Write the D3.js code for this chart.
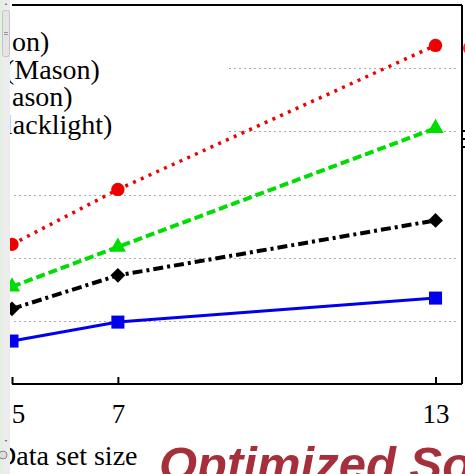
<!DOCTYPE html>
<html>
<head>
<meta charset="utf-8">
<script src="https://cdn.jsdelivr.net/npm/d3@7"></script>
<style>
  html, body { margin: 0; padding: 0; background: #fff; overflow: hidden; }
  svg { display: block; }
</style>
</head>
<body>
<svg id="chart" width="465" height="474"></svg>
<script>
// data (y in grid units, labels cropped in the original)
const sizes = [5, 7, 13];
const xTicks = [5, 7, 13];
const gridLevels = [1, 2, 3, 4, 5];
const redVals = [2.21, 3.08, 5.36];
const greenVals = [1.54, 2.17, 4.05];
const blackVals = [1.19, 1.72, 2.59];
const blueVals = [0.68, 0.98, 1.36];
const legendLabels = ["on)", "(Mason)", "ason)", "lacklight)"];

const series = [
  { name: "red", values: redVals, color: "#ee0000", dash: "3,5.5", width: 3.5, symbol: d3.symbolCircle, size: 140, rot: 0 },
  { name: "green", values: greenVals, color: "#00dd00", dash: "9,4", width: 4, symbol: d3.symbolTriangle, size: 115, rot: 0 },
  { name: "black", values: blackVals, color: "#000", dash: "10,4,3,4", width: 4, symbol: d3.symbolSquare, size: 110, rot: 45 },
  { name: "blue", values: blueVals, color: "#0000ee", dash: null, width: 3, symbol: d3.symbolSquare, size: 170, rot: 0 }
];

const svg = d3.select("#chart");

const plotLeft = 12, plotRight = 462, plotTop = 5, plotBottom = 384;
const x = d3.scaleLinear().domain([5, 13.5]).range([plotLeft, plotRight]);
const y = d3.scaleLinear().domain([0, 6]).range([plotBottom, plotTop]);

// dotted grid
svg.append("g")
  .selectAll("line")
  .data(gridLevels)
  .join("line")
  .attr("x1", plotLeft + 2)
  .attr("x2", plotRight - 4)
  .attr("y1", d => Math.round(y(d)) + 0.5)
  .attr("y2", d => Math.round(y(d)) + 0.5)
  .attr("stroke", "#aaa")
  .attr("stroke-width", 1)
  .attr("stroke-dasharray", "2,3");

// legend box (cropped) hides the upper grid lines
svg.append("rect")
  .attr("x", plotLeft)
  .attr("y", 20)
  .attr("width", 215)
  .attr("height", 122)
  .attr("fill", "#fff");

svg.append("g")
  .selectAll("text")
  .data(legendLabels)
  .join("text")
  .attr("x", (d, i) => [12, 5, 12, 5][i])
  .attr("y", (d, i) => 51 + i * 27.5)
  .attr("font-family", "'Liberation Serif', 'Times New Roman', serif")
  .attr("font-size", 28)
  .attr("fill", "#000")
  .text(d => d);

// frame: top, right and bottom axis lines
svg.append("line")
  .attr("x1", plotLeft).attr("x2", plotRight).attr("y1", plotTop).attr("y2", plotTop)
  .attr("stroke", "#000").attr("stroke-width", 2);
svg.append("line")
  .attr("x1", plotRight).attr("x2", plotRight).attr("y1", plotTop).attr("y2", plotBottom)
  .attr("stroke", "#000").attr("stroke-width", 2);

const xAxis = svg.append("g")
  .attr("transform", `translate(0,${plotBottom})`)
  .call(d3.axisBottom(x).tickValues(xTicks).tickSizeInner(-7).tickSizeOuter(0).tickPadding(20));
xAxis.select(".domain").attr("stroke-width", 2).attr("d", `M${plotLeft},0H${plotRight}`);
xAxis.selectAll(".tick line").attr("stroke-width", 2);
xAxis.selectAll(".tick text")
  .attr("font-family", "'Liberation Serif', 'Times New Roman', serif")
  .attr("font-size", 27)
  .attr("fill", "#000")
  .attr("dx", d => d === 5 ? 6 : 0);

// lines and markers
const line = d3.line()
  .x((d, i) => x(sizes[i]))
  .y(d => y(d));

series.forEach(s => {
  svg.append("path")
    .datum(s.values)
    .attr("d", line)
    .attr("fill", "none")
    .attr("stroke", s.color)
    .attr("stroke-width", s.width)
    .attr("stroke-dasharray", s.dash);

  svg.append("g")
    .selectAll("path")
    .data(s.values)
    .join("path")
    .attr("d", d3.symbol().type(s.symbol).size(s.size))
    .attr("transform", (d, i) => `translate(${x(sizes[i])},${y(d)}) rotate(${s.rot})`)
    .attr("fill", s.color);
});

// cropped neighbour marks at the right edge
svg.append("circle").attr("cx", 470).attr("cy", 48).attr("r", 7).attr("fill", "#e33");
svg.append("g")
  .selectAll("line")
  .data([131, 139, 147])
  .join("line")
  .attr("x1", 463).attr("x2", 465)
  .attr("y1", d => d).attr("y2", d => d)
  .attr("stroke", "#000").attr("stroke-width", 2);

// axis title and slide title
svg.append("text")
  .attr("x", -4)
  .attr("y", 465)
  .attr("font-family", "'Liberation Serif', 'Times New Roman', serif")
  .attr("font-size", 28)
  .attr("fill", "#000")
  .text("Data set size");

svg.append("text")
  .attr("x", 159)
  .attr("y", 481)
  .attr("font-family", "'Liberation Sans', Arial, sans-serif")
  .attr("font-size", 49)
  .attr("font-weight", "bold")
  .attr("font-style", "italic")
  .attr("fill", "#a5303b")
  .text("Optimized So");

// window strip on the left (scrollbar)
const strip = svg.append("g");
strip.append("rect").attr("x", 0).attr("y", 0).attr("width", 10).attr("height", 474).attr("fill", "#ececec");
strip.append("rect").attr("x", 0).attr("y", 0).attr("width", 2).attr("height", 474).attr("fill", "#e2f0e0");
strip.append("rect").attr("x", 2.5).attr("y", 10.5).attr("width", 7).attr("height", 46).attr("rx", 2)
  .attr("fill", "#e4e4e4").attr("stroke", "#c4c4c4");
strip.append("path").attr("d", "M4,32.5H8M4,34.5H8").attr("stroke", "#999");
strip.append("path").attr("d", "M4.5,5L6,3L7.5,5Z").attr("fill", "#777");
strip.append("path").attr("d", "M4.5,440L6,442L7.5,440Z").attr("fill", "#777");
strip.append("circle").attr("cx", 3).attr("cy", 455).attr("r", 4).attr("fill", "#ddd").attr("stroke", "#888");
</script>
</body>
</html>
